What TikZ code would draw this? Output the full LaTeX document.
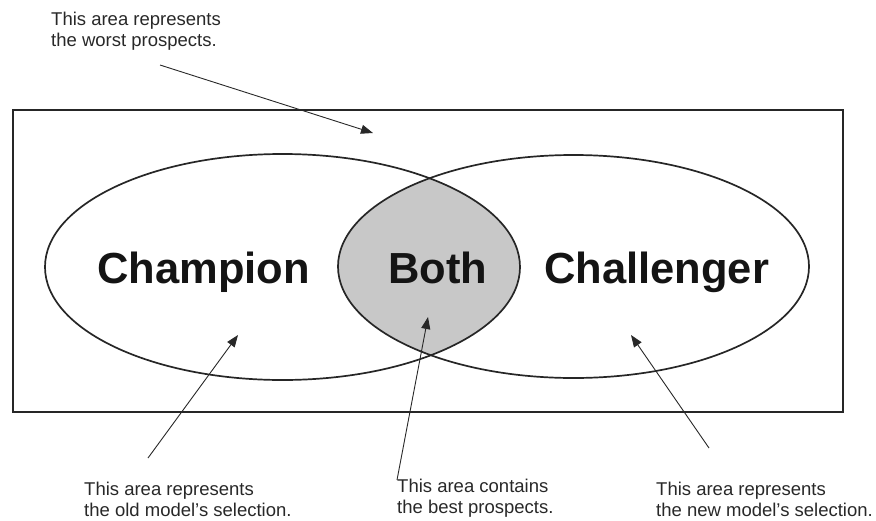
\documentclass[tikz,border=0pt]{standalone}
\usepackage{fontspec}
\setmainfont{Liberation Sans}
\usetikzlibrary{arrows.meta}
\definecolor{lensgray}{RGB}{200,200,200}
\definecolor{notegray}{RGB}{40,40,40}
\definecolor{linegray}{RGB}{40,40,40}
\tikzset{
  note/.style={anchor=north west, inner sep=0pt, align=left, text=notegray,
    font=\fontsize{18.5}{21}\selectfont},
  big/.style={anchor=base west, inner sep=0pt, text=black!92,
    font=\fontsize{43.5}{50}\selectfont\bfseries},
  pointer/.style={draw=linegray, line width=0.9pt,
    -{Triangle[length=12pt,width=9pt]}},
  setline/.style={draw=black!85, line width=1.7pt},
  frame/.style={draw=black!85, line width=2pt}
}
\begin{document}
\begin{tikzpicture}[x=1pt,y=-1pt]
\useasboundingbox (0,0) rectangle (876,520);
% frame
\draw[frame] (13,110) rectangle (843,412);
% lens fill
\begin{scope}
  \clip (282.5,267) ellipse [x radius=237.5pt, y radius=113pt];
  \fill[lensgray] (573.5,266.5) ellipse [x radius=235.5pt, y radius=111.5pt];
\end{scope}
% ellipses
\draw[setline] (282.5,267) ellipse [x radius=237.5pt, y radius=113pt];
\draw[setline] (573.5,266.5) ellipse [x radius=235.5pt, y radius=111.5pt];
% big labels
\node[big] (champ) at (97,283) {Champion};
\node[big] (both) at (388,283) {Both};
\node[big] (chall) at (544,283) {Challenger};
% notes
\node[note] (worst) at (51,12) {This area represents\\the worst prospects.};
\node[note] (old) at (84,482) {This area represents\\the old model's selection.};
\node[note] (best) at (397,479) {This area contains\\the best prospects.};
\node[note] (new) at (656,482) {This area represents\\the new model's selection.};
% arrow coordinates
\coordinate (w0) at (160,65);
\coordinate (w1) at (373,133);
\coordinate (o0) at (148,458);
\coordinate (o1) at (238,335);
\coordinate (b0) at (397,480);
\coordinate (b1) at (428,317);
\coordinate (n0) at (709,448);
\coordinate (n1) at (631,335);
\draw[pointer] (w0) -- (w1);
\draw[pointer] (o0) -- (o1);
\draw[pointer] (b0) -- (b1);
\draw[pointer] (n0) -- (n1);
\end{tikzpicture}
\end{document}
